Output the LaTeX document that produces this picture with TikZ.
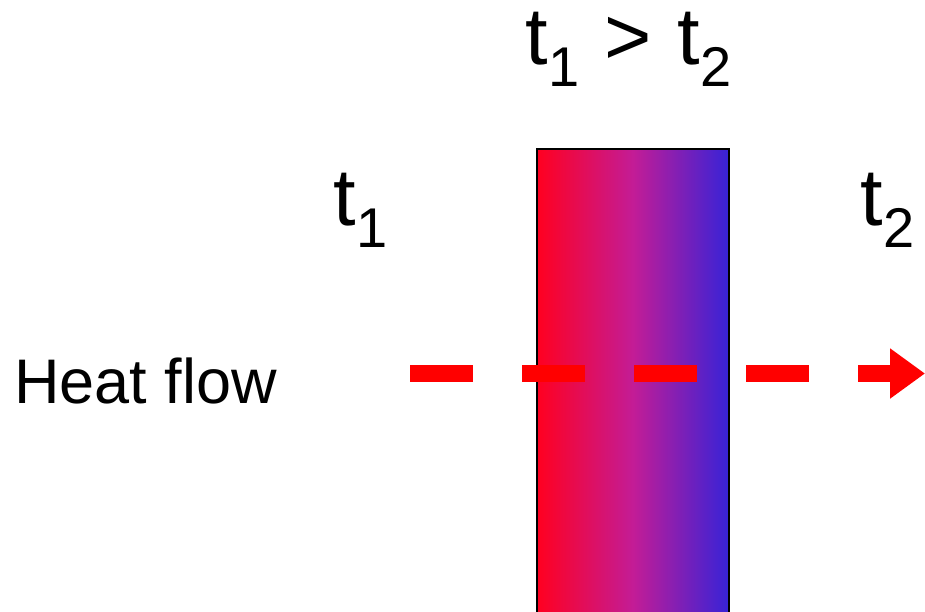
\documentclass[tikz,border=0pt]{standalone}
\usepackage{fontspec}
\setmainfont{Liberation Sans}
\usetikzlibrary{arrows.meta}
\definecolor{barred}{RGB}{255,0,32}
\definecolor{barmid}{RGB}{195,28,150}
\definecolor{barblue}{RGB}{55,35,215}
\definecolor{flowred}{RGB}{255,0,0}
\newcommand{\tsub}[1]{t\kern1pt\raisebox{-22pt}{\fontsize{56}{56}\selectfont #1}}
\tikzset{
  bigtext/.style={font=\fontsize{81}{81}\selectfont, inner sep=0pt, anchor=base west},
  flowtext/.style={font=\fontsize{63}{63}\selectfont, inner sep=0pt, anchor=base west},
  flow/.style={draw=flowred, line width=17pt, line cap=butt, dash pattern=on 63pt off 49pt,
    -{Triangle[length=35pt,width=48pt]}},
}
\begin{document}
\begin{tikzpicture}[x=1pt,y=-1pt]
\useasboundingbox (0,0) rectangle (925,611);
% wall with temperature gradient
\shade[left color=barred, right color=barblue, middle color=barmid, shading=axis, shading angle=90]
  (537,149) rectangle (729,616);
\draw[line width=2pt] (537,620) -- (537,149) -- (729,149) -- (729,620);
\node[bigtext] (top) at (525,64) {\tsub{1}\hspace{25pt}>\hspace{25pt}\tsub{2}};
\node[bigtext] (tone) at (333,225) {\tsub{1}};
\node[bigtext] (ttwo) at (860,225) {\tsub{2}};
\node[flowtext] (heat) at (14,403) {Heat flow};
\coordinate (fs) at (410,373.5);
\coordinate (fe) at (925,373.5);
\draw[flow] (fs) -- (fe);
\end{tikzpicture}
\end{document}
